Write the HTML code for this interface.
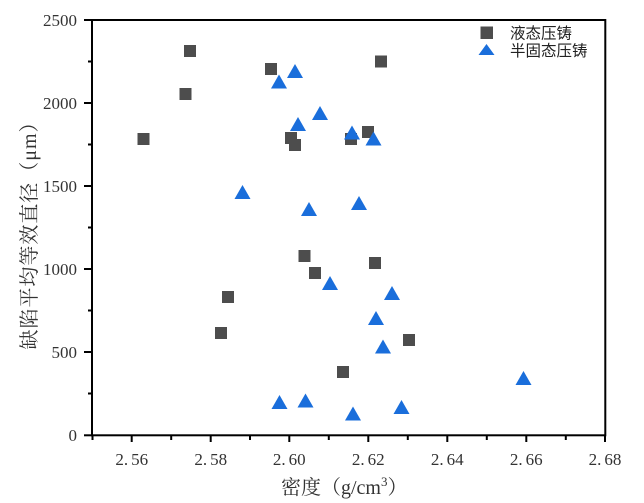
<!DOCTYPE html>
<html>
<head>
<meta charset="utf-8">
<style>
  html, body { margin: 0; padding: 0; background: #ffffff; }
  svg { display: block; }
  .tick { font-family: "Liberation Serif", "Noto Serif CJK SC", serif; font-size: 17px; fill: #333333; }
  .lab { font-family: "Liberation Serif", "Noto Serif CJK SC", serif; font-size: 20px; fill: #333333; }
  .leg { font-family: "Liberation Sans", "Noto Sans CJK SC", sans-serif; font-size: 15.5px; fill: #222222; }
</style>
</head>
<body>
<svg width="644" height="503" viewBox="0 0 644 503" xmlns="http://www.w3.org/2000/svg">
  <rect x="0" y="0" width="644" height="503" fill="#ffffff"/>

  <!-- Squares (液态压铸) -->
  <g fill="#4d4d4d">
    <rect x="184" y="45" width="12" height="12"/>
    <rect x="265" y="63" width="12" height="12"/>
    <rect x="375" y="55.5" width="12" height="12"/>
    <rect x="179.5" y="88" width="12" height="12"/>
    <rect x="137.5" y="133" width="12" height="12"/>
    <rect x="285" y="132" width="12" height="12"/>
    <rect x="289" y="139" width="12" height="12"/>
    <rect x="345" y="133" width="12" height="12"/>
    <rect x="362" y="126" width="12" height="12"/>
    <rect x="298.5" y="250" width="12" height="12"/>
    <rect x="309" y="267" width="12" height="12"/>
    <rect x="369" y="257" width="12" height="12"/>
    <rect x="222" y="291" width="12" height="12"/>
    <rect x="215" y="327" width="12" height="12"/>
    <rect x="403" y="334" width="12" height="12"/>
    <rect x="337" y="366" width="12" height="12"/>
  </g>

  <!-- Triangles (半固态压铸) -->
  <g fill="#1a6edb">
    <polygon points="295,64 287,78 303,78"/>
    <polygon points="279,74.5 271,88.5 287,88.5"/>
    <polygon points="320,106 312,120 328,120"/>
    <polygon points="298,117 290,131 306,131"/>
    <polygon points="352,125.5 344,139.5 360,139.5"/>
    <polygon points="373.5,131.5 365.5,145.5 381.5,145.5"/>
    <polygon points="242.5,185 234.5,199 250.5,199"/>
    <polygon points="309,202 301,216 317,216"/>
    <polygon points="359,196 351,210 367,210"/>
    <polygon points="330,276 322,290 338,290"/>
    <polygon points="392,286 384,300 400,300"/>
    <polygon points="376,311 368,325 384,325"/>
    <polygon points="383,339.5 375,353.5 391,353.5"/>
    <polygon points="279.5,395 271.5,409 287.5,409"/>
    <polygon points="305.5,393.5 297.5,407.5 313.5,407.5"/>
    <polygon points="353,406.5 345,420.5 361,420.5"/>
    <polygon points="401.5,400 393.5,414 409.5,414"/>
    <polygon points="523.5,371 515.5,385 531.5,385"/>
  </g>

  <!-- Frame -->
  <rect x="92" y="20" width="513.3" height="415.3" fill="none" stroke="#000000" stroke-width="2"/>

  <!-- Y ticks -->
  <g stroke="#000000" stroke-width="2">
    <line x1="84" y1="20" x2="92" y2="20"/>
    <line x1="84" y1="103" x2="92" y2="103"/>
    <line x1="84" y1="186" x2="92" y2="186"/>
    <line x1="84" y1="269" x2="92" y2="269"/>
    <line x1="84" y1="352" x2="92" y2="352"/>
    <line x1="84" y1="435.3" x2="92" y2="435.3"/>
    <line x1="88" y1="61.5" x2="92" y2="61.5"/>
    <line x1="88" y1="144.5" x2="92" y2="144.5"/>
    <line x1="88" y1="227.5" x2="92" y2="227.5"/>
    <line x1="88" y1="310.5" x2="92" y2="310.5"/>
    <line x1="88" y1="393.5" x2="92" y2="393.5"/>
  </g>

  <!-- X ticks -->
  <g stroke="#000000" stroke-width="2">
    <line x1="131.7" y1="435" x2="131.7" y2="442"/>
    <line x1="210.7" y1="435" x2="210.7" y2="442"/>
    <line x1="289.3" y1="435" x2="289.3" y2="442"/>
    <line x1="368.3" y1="435" x2="368.3" y2="442"/>
    <line x1="447.3" y1="435" x2="447.3" y2="442"/>
    <line x1="526.3" y1="435" x2="526.3" y2="442"/>
    <line x1="605" y1="435" x2="605" y2="442"/>
    <line x1="92.5" y1="435" x2="92.5" y2="440"/>
    <line x1="171.2" y1="435" x2="171.2" y2="440"/>
    <line x1="250" y1="435" x2="250" y2="440"/>
    <line x1="328.8" y1="435" x2="328.8" y2="440"/>
    <line x1="407.8" y1="435" x2="407.8" y2="440"/>
    <line x1="486.8" y1="435" x2="486.8" y2="440"/>
    <line x1="565.8" y1="435" x2="565.8" y2="440"/>
  </g>

  <!-- Y tick labels -->
  <g class="tick" text-anchor="end">
    <text x="77" y="26">2500</text>
    <text x="77" y="109">2000</text>
    <text x="77" y="192">1500</text>
    <text x="77" y="275">1000</text>
    <text x="77" y="358">500</text>
    <text x="77" y="441">0</text>
  </g>

  <!-- X tick labels -->
  <g class="tick" text-anchor="middle">
    <text x="131.7" y="465">2.<tspan dx="3">56</tspan></text>
    <text x="210.7" y="465">2.<tspan dx="3">58</tspan></text>
    <text x="289.3" y="465">2.<tspan dx="3">60</tspan></text>
    <text x="368.3" y="465">2.<tspan dx="3">62</tspan></text>
    <text x="447.3" y="465">2.<tspan dx="3">64</tspan></text>
    <text x="526.3" y="465">2.<tspan dx="3">66</tspan></text>
    <text x="605" y="465">2.<tspan dx="3">68</tspan></text>
  </g>

  <!-- Axis titles -->
  <text class="lab" x="281" y="494">密度（g/cm<tspan font-size="13px" dy="-8">3</tspan><tspan dy="8">）</tspan></text>
  <text class="lab" transform="translate(36,231) rotate(-90)" text-anchor="middle" textLength="237" lengthAdjust="spacing">缺陷平均等效直径（μm）</text>

  <!-- Legend -->
  <rect x="480.5" y="26.5" width="12.5" height="12.5" fill="#4d4d4d"/>
  <polygon points="486.5,44 478.5,55 494.5,55" fill="#1a6edb"/>
  <text class="leg" x="510" y="38.5">液态压铸</text>
  <text class="leg" x="510" y="56">半固态压铸</text>
</svg>
</body>
</html>
